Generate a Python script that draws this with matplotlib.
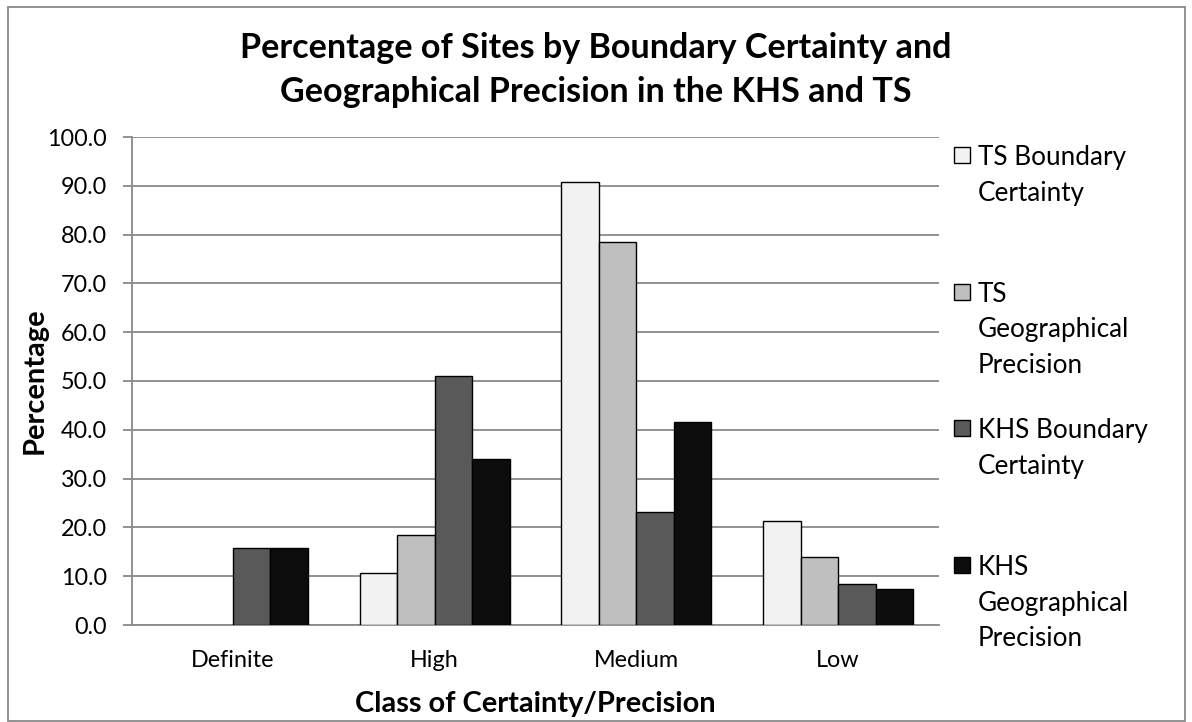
import matplotlib
matplotlib.use("Agg")
import matplotlib.pyplot as plt
import numpy as np
from matplotlib.patches import Rectangle

# data
classes = ["Definite", "High", "Medium", "Low"]
series_names = ["TS Boundary\nCertainty", "TS\nGeographical\nPrecision",
                "KHS Boundary\nCertainty", "KHS\nGeographical\nPrecision"]
ts_boundary = [0.0, 10.6, 90.8, 21.4]
ts_geo = [0.0, 18.4, 78.4, 13.9]
khs_boundary = [15.8, 51.1, 23.1, 8.5]
khs_geo = [15.8, 34.1, 41.5, 7.4]
y_ticks = np.arange(0, 101, 10)

colors = ["#f2f2f2", "#bfbfbf", "#595959", "#0d0d0d"]
grid_col = "#898989"

plt.rcParams['font.family'] = ['Lato', 'DejaVu Sans']

W, H = 1192, 722
fig = plt.figure(figsize=(W / 100, H / 100), dpi=100)
renderer = fig.canvas.get_renderer()


def fit_size(text, width_px, **kw):
    # font size that makes text about width_px wide
    t = fig.text(0, 0, text, fontsize=10, **kw)
    w = t.get_window_extent(renderer).width
    t.remove()
    return 10 * width_px / w


def fx(px):
    return px / W


def fy(py):
    return 1 - py / H


tick_fs = (fit_size("100.0", 59) + fit_size("Definite", 84)) / 2
leg_fs = fit_size("TS Boundary", 148)
lab_fs = fit_size("Class of Certainty/Precision", 362, fontweight="bold")
title_fs = fit_size("Percentage of Sites by Boundary Certainty and", 713, fontweight="bold")

# plot area in pixels: x 132..939, y 137..625
ax = fig.add_axes([fx(132), fy(625), fx(939) - fx(132), fy(137) - fy(625)])

x = np.arange(len(classes))
w = 0.186
all_series = [ts_boundary, ts_geo, khs_boundary, khs_geo]
for i, vals in enumerate(all_series):
    # zero bars left out so no outline shows on the baseline
    xs = [xx + (i - 1.5) * w for xx, v in zip(x, vals) if v > 0]
    vs = [v for v in vals if v > 0]
    ax.bar(xs, vs, width=w, color=colors[i], edgecolor="black", linewidth=1.0,
           align="center", zorder=3)

ax.set_xlim(-0.5, 3.5)
ax.set_ylim(0, 100)
ax.set_yticks(y_ticks)
ax.set_yticklabels([f"{t:.1f}" for t in y_ticks])
ax.set_xticks(x)
ax.set_xticklabels(classes, va="baseline")
ax.tick_params(axis="y", length=6.5, width=1.3, color=grid_col, labelsize=tick_fs, pad=11.5)
ax.tick_params(axis="x", length=0, labelsize=tick_fs, pad=30.2)
ax.yaxis.grid(True, color=grid_col, linewidth=1.3, zorder=0)
ax.set_axisbelow(True)
for s in ["top", "right"]:
    ax.spines[s].set_visible(False)
for s in ["left", "bottom"]:
    ax.spines[s].set_color(grid_col)
    ax.spines[s].set_linewidth(1.3)

ax.set_xlabel("Class of Certainty/Precision", fontsize=lab_fs, fontweight="bold", va="baseline")
ax.xaxis.set_label_coords(0.5, -(712 - 625) / 488)
ax.set_ylabel("Percentage", fontsize=lab_fs, fontweight="bold", va="baseline")
ax.yaxis.set_label_coords((43 - 132) / 807, 0.5)

# title, two lines
fig.text(0.5, fy(58), "Percentage of Sites by Boundary Certainty and",
         ha="center", va="baseline", fontsize=title_fs, fontweight="bold")
fig.text(0.5, fy(102), "Geographical Precision in the KHS and TS",
         ha="center", va="baseline", fontsize=title_fs, fontweight="bold")

# legend, handle next to the first line of each entry
for i, name in enumerate(series_names):
    base = 165 + i * 136.7
    fig.patches.append(Rectangle((fx(954), fy(base - 2)), fx(16), 16 / H,
                                 transform=fig.transFigure, facecolor=colors[i],
                                 edgecolor="black", linewidth=1.0))
    for j, line in enumerate(name.split("\n")):
        fig.text(fx(978), fy(base + j * 35.5), line, ha="left", va="baseline",
                 fontsize=leg_fs)

# grey outer border of the chart area
fig.patches.append(Rectangle((fx(8), fy(720.5)), fx(1185) - fx(8), fy(7) - fy(720.5),
                             transform=fig.transFigure, fill=False,
                             edgecolor=grid_col, linewidth=1.3))

fig.savefig("out.png", dpi=100)
